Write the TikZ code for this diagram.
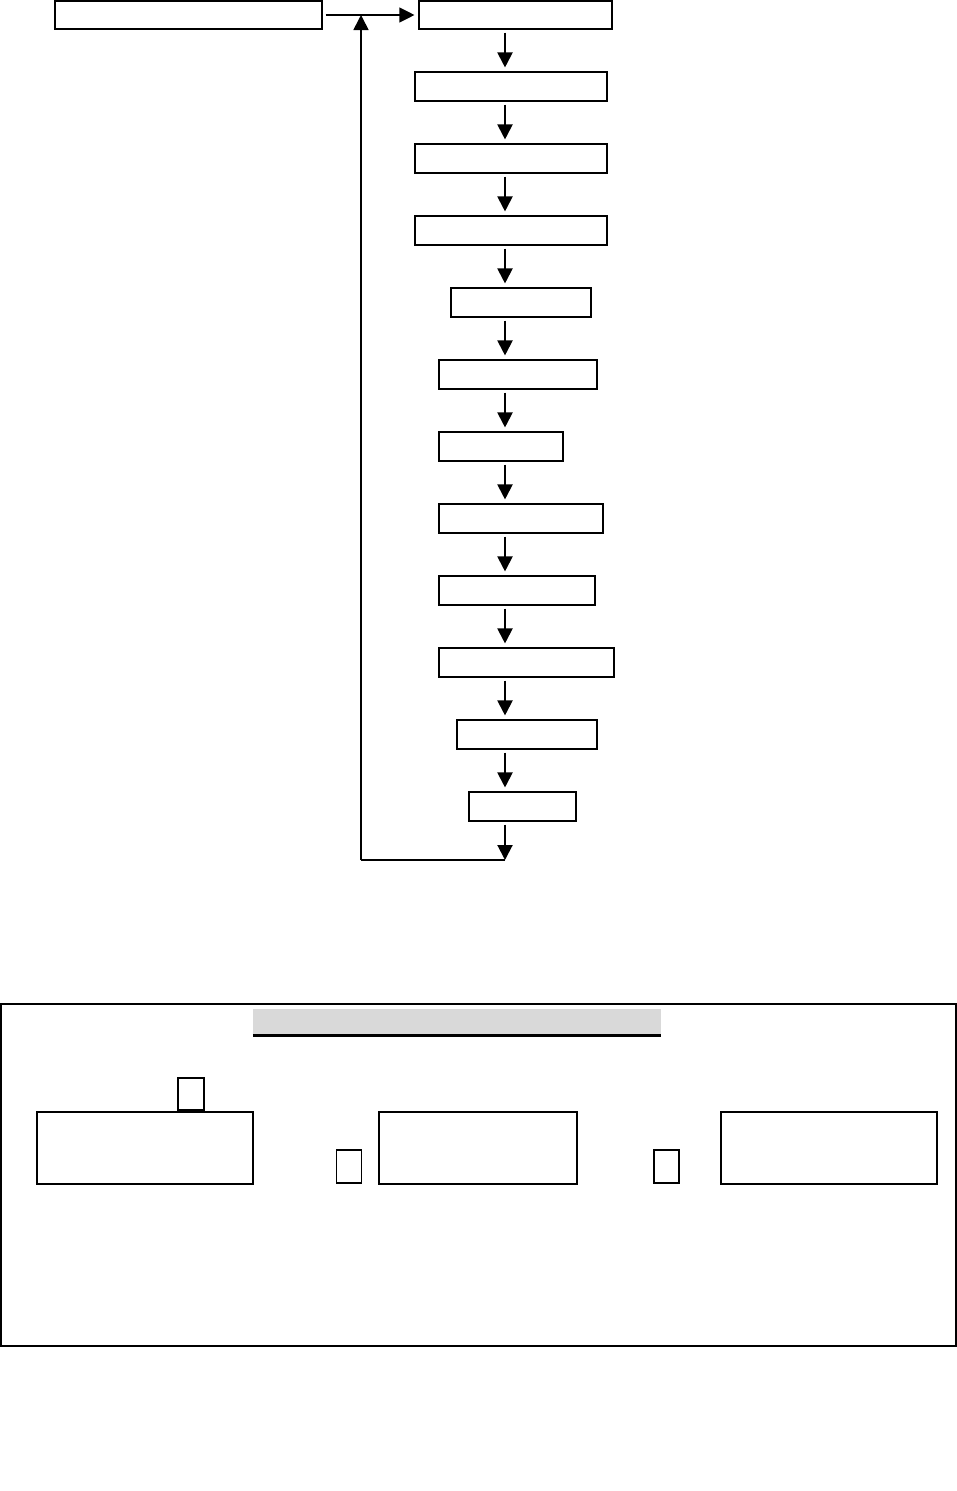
\documentclass[tikz,border=0pt]{standalone}
\usetikzlibrary{arrows.meta}
\definecolor{titlegray}{HTML}{D9D9D9}
\tikzset{
  fbox/.style={draw=black, line width=1.1pt, inner sep=0pt, fill=white},
  pbox/.style={draw=black, line width=1.6pt, inner sep=0pt},
  sbox/.style={draw=black, line width=1.1pt, inner sep=0pt},
  arr/.style={line width=2pt, -{Triangle[length=15pt,width=15pt]}, shorten <=3pt, shorten >=4pt},
  thinarr/.style={line width=1.1pt, -{Triangle[length=15pt,width=15pt]}},
  loopline/.style={line width=1.6pt},
}
\begin{document}
\begin{tikzpicture}[x=1pt,y=-1pt]
\useasboundingbox (0,0) rectangle (956,1491);
% flowchart boxes
\node[fbox, minimum width=267pt, minimum height=28pt] (L) at (188.5,15) {};
\node[fbox, minimum width=193pt, minimum height=28pt] (b1) at (515.5,15) {};
\node[fbox, minimum width=192pt, minimum height=29pt] (b2) at (511,86.5) {};
\node[fbox, minimum width=192pt, minimum height=29pt] (b3) at (511,158.5) {};
\node[fbox, minimum width=192pt, minimum height=29pt] (b4) at (511,230.5) {};
\node[fbox, minimum width=140pt, minimum height=29pt] (b5) at (521,302.5) {};
\node[fbox, minimum width=158pt, minimum height=29pt] (b6) at (518,374.5) {};
\node[fbox, minimum width=124pt, minimum height=29pt] (b7) at (501,446.5) {};
\node[fbox, minimum width=164pt, minimum height=29pt] (b8) at (521,518.5) {};
\node[fbox, minimum width=156pt, minimum height=29pt] (b9) at (517,590.5) {};
\node[fbox, minimum width=175pt, minimum height=29pt] (b10) at (526.5,662.5) {};
\node[fbox, minimum width=140pt, minimum height=29pt] (b11) at (527,734.5) {};
\node[fbox, minimum width=107pt, minimum height=29pt] (b12) at (522.5,806.5) {};
\coordinate (ax) at (505,0);
\coordinate (end) at (505,860);
\coordinate (lc) at (361,860);
\coordinate (ltop) at (361,15);
% vertical arrows
\foreach \a/\b in {b1/b2,b2/b3,b3/b4,b4/b5,b5/b6,b6/b7,b7/b8,b8/b9,b9/b10,b10/b11,b11/b12}{
  \draw[arr] (\a.south -| ax) -- (\b.north -| ax);
}
\draw[arr, shorten >=0pt] (b12.south -| ax) -- (end);
% loop back
\draw[loopline] (end) -- (lc);
\draw[loopline, -{Triangle[length=15pt,width=15pt]}] (lc) -- (ltop);
\draw[thinarr, shorten <=3pt, shorten >=4pt] (L.east) -- (b1.west);
% bottom panel
\node[draw=black, line width=2pt, inner sep=0pt, minimum width=955pt, minimum height=342pt] (frame) at (478,1175) {};
\node[fill=titlegray, inner sep=0pt, minimum width=408pt, minimum height=25pt] (title) at (457,1021.5) {};
\draw[line width=3pt] (title.south west) ++(0,1.5) coordinate (tl) -- (tl -| title.east);
\node[sbox, minimum width=26pt, minimum height=32pt] (s1) at (191,1094) {};
\node[pbox, minimum width=216pt, minimum height=72pt] (p1) at (145,1148) {};
\node[sbox, minimum width=25pt, minimum height=33pt] (s2) at (349,1166.5) {};
\node[pbox, minimum width=198pt, minimum height=72pt] (p2) at (478,1148) {};
\node[sbox, minimum width=25pt, minimum height=33pt] (s3) at (666.5,1166.5) {};
\node[pbox, minimum width=216pt, minimum height=72pt] (p3) at (829,1148) {};
\end{tikzpicture}
\end{document}
